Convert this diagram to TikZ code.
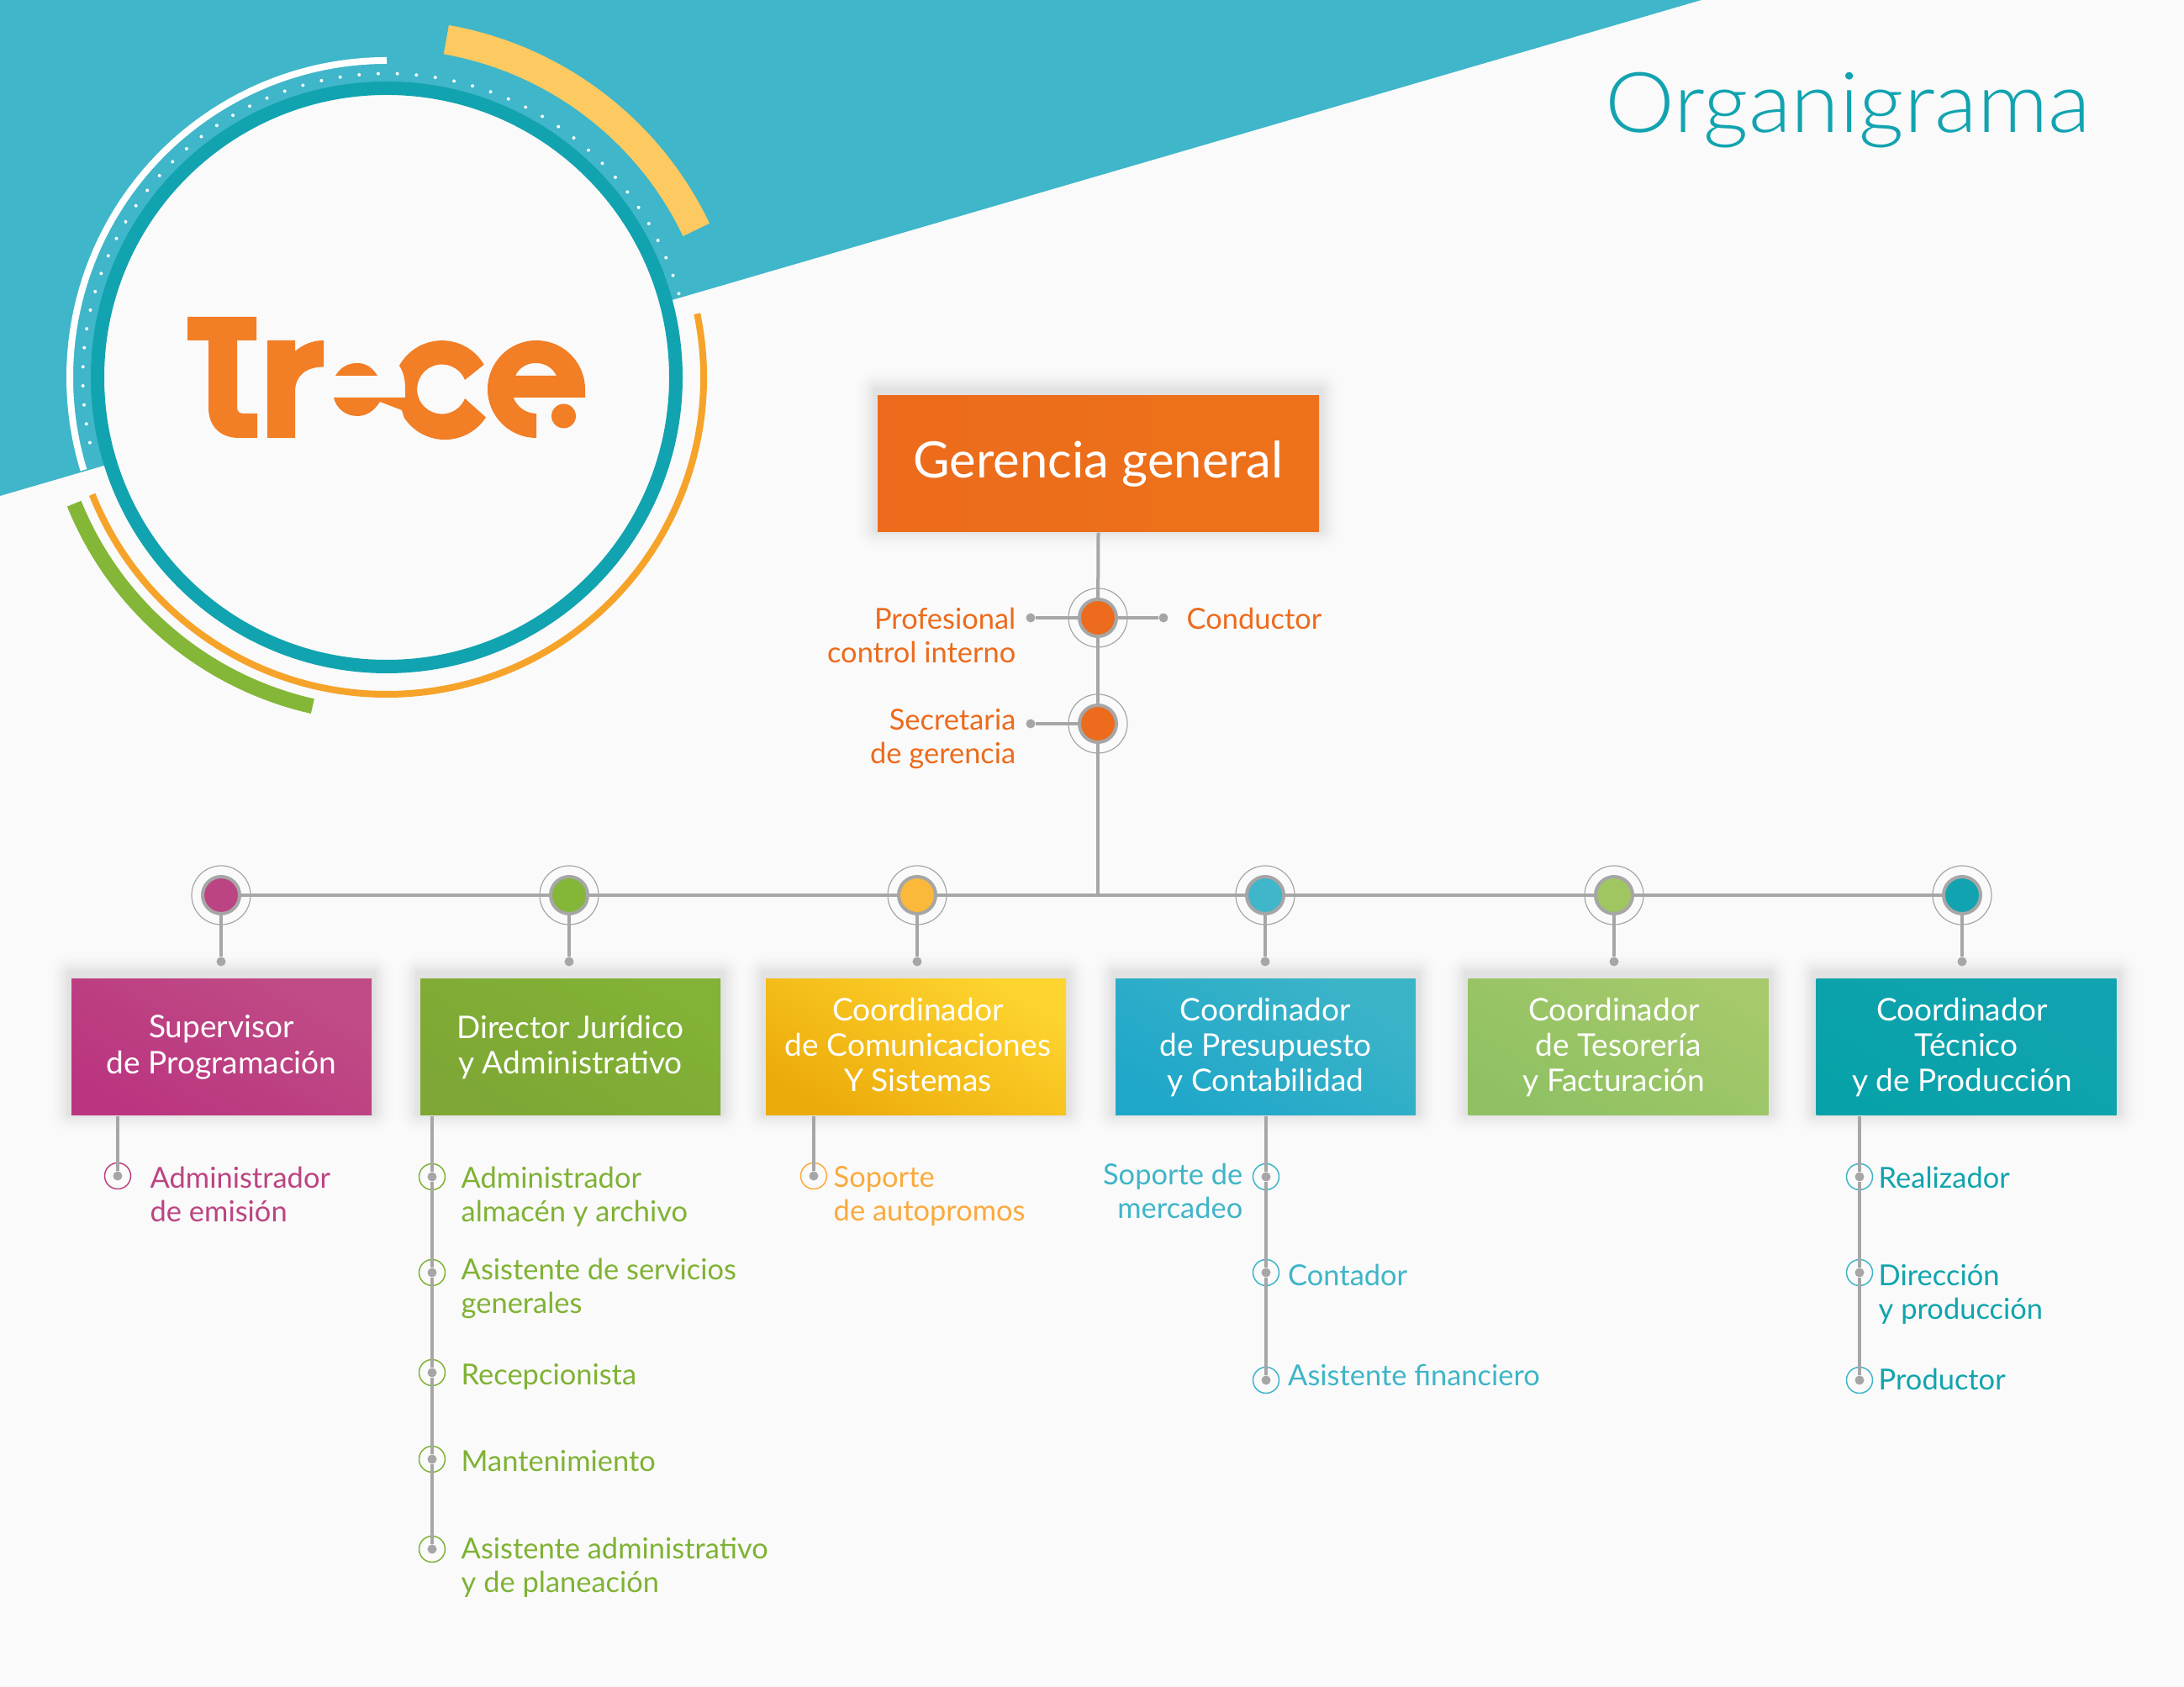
\documentclass[tikz,border=0pt]{standalone}
\usepackage{fontspec}
\setmainfont{Lato}
\newfontfamily\lightfont[FakeStretch=1.05]{Lato Light}
\usetikzlibrary{backgrounds}
\definecolor{pagebg}{HTML}{FAFAFA}
\definecolor{band}{HTML}{3FB6C9}
\definecolor{deepteal}{HTML}{12A3B0}
\definecolor{linegray}{HTML}{A6A6A6}
\definecolor{logoorange}{HTML}{F27E26}
\definecolor{arcyellow}{HTML}{FDC961}
\definecolor{arcorange}{HTML}{F6A32A}
\definecolor{arcgreen}{HTML}{84B737}
\definecolor{cOrange}{HTML}{EC6B1C}
\definecolor{cPink}{HTML}{BC4482}
\definecolor{cGreen}{HTML}{7FB234}
\definecolor{cYellow}{HTML}{FAAA3C}
\definecolor{cBlue}{HTML}{3FB5C8}
\definecolor{cTeal}{HTML}{10A4AE}
\definecolor{hubYellow}{HTML}{FAB93A}
\definecolor{hubLime}{HTML}{A0C661}
\definecolor{boxPinkA}{HTML}{BA3580}
\definecolor{boxPinkB}{HTML}{C04C85}
\definecolor{boxGreenA}{HTML}{7EA735}
\definecolor{boxGreenB}{HTML}{82B236}
\definecolor{boxYellowA}{HTML}{ECAB0B}
\definecolor{boxYellowB}{HTML}{FED42E}
\definecolor{boxBlueA}{HTML}{1FA7C9}
\definecolor{boxBlueB}{HTML}{3CB4C8}
\definecolor{boxLimeA}{HTML}{8FC162}
\definecolor{boxLimeB}{HTML}{A5C96B}
\definecolor{boxTealA}{HTML}{07A2A9}
\definecolor{boxTealB}{HTML}{12A3B0}
\newcommand{\nudge}{\hspace*{.1cm}}
\newcommand{\nudger}{\hspace*{.05cm}}
\tikzset{
    link/.style={draw=linegray,line width=.04cm},
    unit/.style n args={2}{rectangle,minimum width=3.57cm,minimum height=1.62cm,inner sep=0,
        align=center,text=white,bottom color=#1,top color=#2,shading angle=-30,
        font=\fontsize{10.55}{12.05}\selectfont},
    hubring/.style={circle,draw=linegray,line width=.012cm,minimum size=.70cm,inner sep=0},
    hubdisc/.style={circle,draw=linegray,fill=#1,line width=.04cm,minimum size=.44cm,inner sep=0},
    tip/.style={circle,fill=linegray,minimum size=.11cm,inner sep=0},
    itemring/.style={circle,draw=#1,line width=.015cm,minimum size=.31cm,inner sep=0},
    item/.style={anchor=base west,align=left,inner sep=0,yshift=-.015cm,text=#1,font=\fontsize{9.8}{11.38}\selectfont},
    itemr/.style={anchor=base east,align=right,inner sep=0,yshift=-.015cm,text=#1,font=\fontsize{9.8}{11.38}\selectfont},
}

\begin{document}
\begin{tikzpicture}
    \useasboundingbox (0,0) rectangle (25.98,20.07);
    \coordinate (logo) at (4.60,15.58);
    \fill[band] (0,20.07) -- (20.24,20.07) -- (0,14.17) -- cycle;

    % rings around the logo
    \draw[white,line width=.08cm] (logo) ++(90:3.77) arc[start angle=90,end angle=197,radius=3.77cm];
    \foreach \a in {16,19.6,...,196} \fill[white] (logo) ++(\a:3.615) circle (.02);
    \draw[arcyellow,line width=.35cm] (logo) ++(80:4.08) arc[start angle=80,end angle=25.5,radius=4.08cm];
    \draw[arcorange,line width=.08cm] (logo) ++(11.6:3.77) arc[start angle=11.6,end angle=-158.3,radius=3.77cm];
    \draw[arcgreen,line width=.18cm] (logo) ++(202:4.01) arc[start angle=202,end angle=257.3,radius=4.01cm];
    \draw[deepteal,fill=pagebg,line width=.16cm] (logo) circle (3.44);

    % logo lettering
    \begin{scope}[shift={(logo)},logoorange]
        \fill (-2.37,.72) -- (-1.55,.72) -- (-1.55,.44) -- (-1.78,.44) -- (-1.78,-.35)
            .. controls (-1.78,-.41) and (-1.75,-.43) .. (-1.70,-.43) -- (-1.54,-.43) -- (-1.54,-.72) -- (-1.76,-.72)
            .. controls (-1.98,-.72) and (-2.12,-.58) .. (-2.12,-.36) -- (-2.12,.44) -- (-2.37,.44) -- cycle;
        \fill (-1.42,.44) -- (-1.09,.44) -- (-1.09,.31) .. controls (-1.00,.39) and (-.88,.44) .. (-.75,.44)
            -- (-.75,.125) .. controls (-.96,.125) and (-1.09,.02) .. (-1.09,-.17) -- (-1.09,-.72) -- (-1.42,-.72) -- cycle;
        \fill (-.61,.02) .. controls (-.55,.12) and (-.46,.17) .. (-.35,.17) .. controls (-.25,.17) and (-.17,.12) .. (-.11,.02) -- cycle;
        \fill (.15,.14) arc[start angle=151,end angle=30.4,radius=.58cm] -- (.93,-.03)
            arc[start angle=22,end angle=338,radius=.295cm] -- (1.18,-.475)
            arc[start angle=327.2,end angle=213,radius=.58cm] -- (.18,-.39) -- (-.08,-.29)
            .. controls (-.15,-.40) and (-.24,-.46) .. (-.35,-.46) .. controls (-.49,-.46) and (-.60,-.37) .. (-.63,-.24)
            -- (.22,-.24) -- (.22,-.14) .. controls (.22,-.02) and (.20,.06) .. (.15,.14) -- cycle;
        \fill[even odd rule] (2.36,-.24) -- (2.36,-.14) arc[start angle=0,end angle=270,radius=.58cm] -- (1.78,-.43)
            arc[start angle=270,end angle=200,radius=.29cm] -- cycle
            (1.53,.02) .. controls (1.58,.12) and (1.67,.17) .. (1.77,.17) .. controls (1.88,.17) and (1.97,.12) .. (2.02,.02) -- cycle;
        \fill (2.105,-.46) circle (.145);
    \end{scope}

    \node[anchor=base west,inner sep=0,text=deepteal,font=\lightfont\fontsize{28.4}{30}\selectfont] (title) at (19.09,18.49) {Organigrama};

    \node[rectangle,minimum width=5.25cm,minimum height=1.62cm,inner sep=0,text height=.44cm,text depth=.10cm,text=white,
        left color=cOrange,right color=cOrange!95!yellow,font=\fontsize{17}{20}\selectfont] (gerencia) at (13.065,14.55) {Gerencia general};

    % staff positions under the head
    \foreach \name/\y in {ctrl/12.72,secr/11.46} {
        \node[hubring] (\name ring) at (13.06,\y) {};
        \node[hubdisc=cOrange] (\name) at (13.06,\y) {};
    }
    \node[tip] (ctrlL) at (12.26,12.72) {};
    \node[tip] (ctrlR) at (13.84,12.72) {};
    \node[tip] (secrL) at (12.26,11.46) {};
    \coordinate (cross) at (13.06,9.42);
    \draw[link] (gerencia.south) -- (ctrl);
    \draw[link] (ctrl) -- (secr);
    \draw[link] (secr) -- (cross);
    \draw[link] (ctrl) -- (ctrlL);
    \draw[link] (ctrl) -- (ctrlR);
    \draw[link] (secr) -- (secrL);
    \node[itemr=cOrange] (ctrlLbl) at (12.09,12.20) {Profesional\\control interno};
    \node[item=cOrange] (condLbl) at (14.11,12.60) {Conductor};
    \node[itemr=cOrange] (secrLbl) at (12.09,11.00) {Secretaria\\de gerencia};

    % six departments
    \node[unit={boxPinkA}{boxPinkB}] (superv) at (2.635,7.61) {Supervisor\\de Programación};
    \node[unit={boxGreenA}{boxGreenB}] (juridico) at (6.785,7.61) {Director Jurídico\\y Administrativo};
    \node[unit={boxYellowA}{boxYellowB}] (comunic) at (10.895,7.61) {\nudger Coordinador\\\nudger de Comunicaciones\\\nudger Y Sistemas\vphantom{y}};
    \node[unit={boxBlueA}{boxBlueB}] (presup) at (15.055,7.61) {Coordinador\\de Presupuesto\\y Contabilidad};
    \node[unit={boxLimeA}{boxLimeB}] (tesor) at (19.25,7.61) {Coordinador\nudge\\de Tesorería\nudge\\y Facturación\nudge};
    \node[unit={boxTealA}{boxTealB}] (tecnico) at (23.39,7.61) {Coordinador\nudge\\Técnico\nudge\\y de Producción\nudge};

    \foreach \name/\x/\col in {superv/2.63/cPink,juridico/6.77/arcgreen,comunic/10.91/hubYellow,presup/15.05/band,tesor/19.20/hubLime,tecnico/23.34/deepteal} {
        \node[hubring] (ring\name) at (\x,9.42) {};
        \node[hubdisc=\col] (hub\name) at (\x,9.42) {};
        \node[tip] (tip\name) at (\x,8.63) {};
        \draw[link] (hub\name) -- (tip\name);
    }
    \draw[link] (hubsuperv) -- (hubjuridico);
    \draw[link] (hubjuridico) -- (hubcomunic);
    \draw[link] (hubcomunic) -- (hubpresup);
    \draw[link] (hubpresup) -- (hubtesor);
    \draw[link] (hubtesor) -- (hubtecnico);

    % positions below the departments
    \foreach \name/\x/\y/\col in {a1/1.40/6.08/cPink,b1/5.14/6.07/cGreen,b2/5.14/4.93/cGreen,b3/5.14/3.74/cGreen,b4/5.14/2.71/cGreen,b5/5.14/1.64/cGreen,
        c1/9.68/6.08/cYellow,d1/15.06/6.07/cBlue,d2/15.06/4.93/cBlue,d3/15.06/3.65/cBlue,f1/22.12/6.07/cBlue,f2/22.12/4.93/cBlue,f3/22.12/3.65/cBlue} {
        \node[itemring=\col] (ring\name) at (\x,\y) {};
        \node[tip] (\name) at (\x,\y) {};
    }
    \draw[link] (a1 |- superv.south) -- (a1);
    \draw[link] (b1 |- juridico.south) -- (b1) -- (b2) -- (b3) -- (b4) -- (b5);
    \draw[link] (c1 |- comunic.south) -- (c1);
    \draw[link] (d1 |- presup.south) -- (d1) -- (d2) -- (d3);
    \draw[link] (f1 |- tecnico.south) -- (f1) -- (f2) -- (f3);

    \node[item=cPink] (a1t) at (1.78,5.55) {Administrador\\de emisión};
    \node[item=cGreen] (b1t) at (5.48,5.55) {Administrador\\almacén y archivo};
    \node[item=cGreen] (b2t) at (5.48,4.46) {Asistente de servicios\\generales};
    \node[item=cGreen] (b3t) at (5.48,3.61) {Recepcionista};
    \node[item=cGreen] (b4t) at (5.48,2.58) {Mantenimiento};
    \node[item=cGreen] (b5t) at (5.48,1.14) {Asistente administrativo\\y de planeación};
    \node[item=cYellow] (c1t) at (9.91,5.56) {Soporte\\de autopromos};
    \node[itemr=cBlue] (d1t) at (14.79,5.59) {Soporte de\\mercadeo};
    \node[item=cBlue] (d2t) at (15.315,4.79) {Contador};
    \node[item=cBlue] (d3t) at (15.315,3.60) {Asistente financiero};
    \node[item=cTeal] (f1t) at (22.34,5.95) {Realizador};
    \node[item=cTeal] (f2t) at (22.34,4.39) {Dirección\\y producción};
    \node[item=cTeal] (f3t) at (22.34,3.55) {Productor};

    \begin{scope}[on background layer]
        \fill[pagebg] (0,0) rectangle (25.98,20.07);
        % soft shadows, outermost step first
        \foreach \b in {gerencia,superv,juridico,comunic,presup,tesor,tecnico} {
            \foreach \g in {.30,.28,...,.02} {
                \pgfmathsetmacro{\k}{100-13*(1-\g/.30)^2}
                \fill[pagebg!\k!black,rounded corners=\g cm] ([shift={(-\g,-\g+.05)}]\b.south west) rectangle ([shift={(\g,\g+.05)}]\b.north east);
            }
        }
    \end{scope}
\end{tikzpicture}
\end{document}
